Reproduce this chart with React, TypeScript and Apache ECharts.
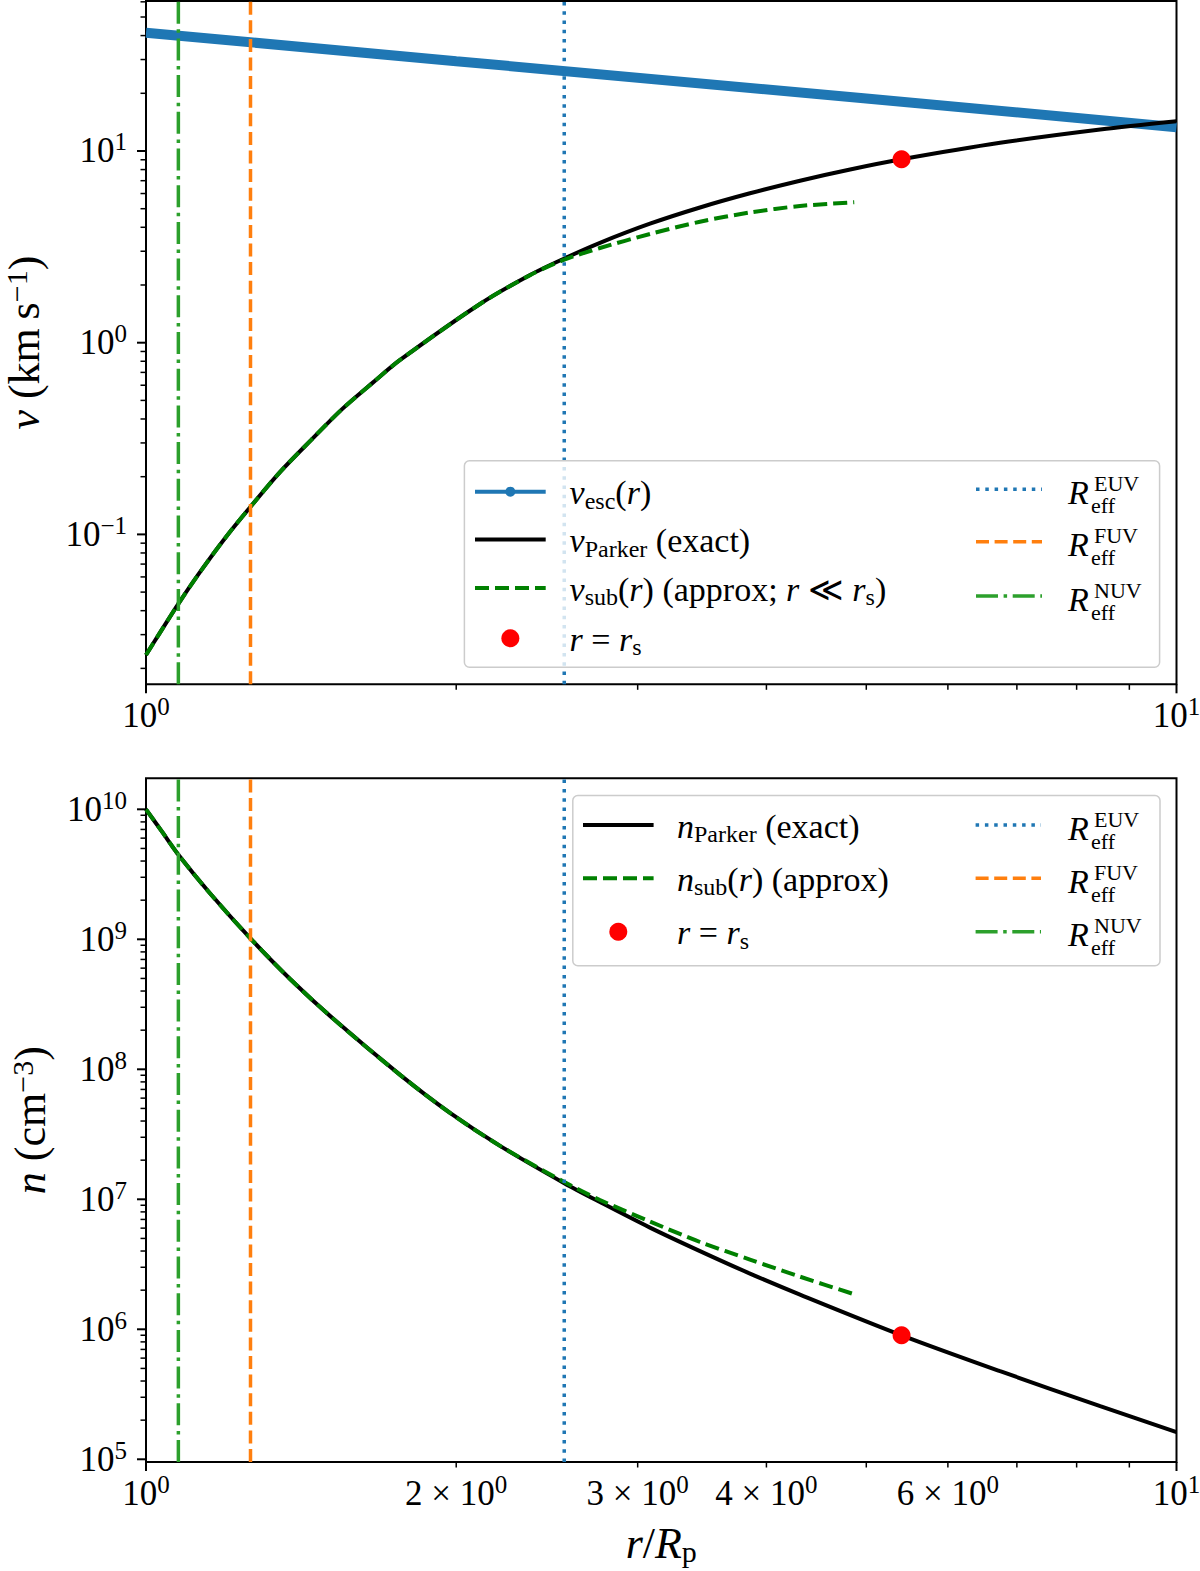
import React, { useEffect, useRef } from 'react';
import * as echarts from 'echarts';

const SERIF = '"Liberation Serif", "DejaVu Serif", serif';

// ---- axis ranges ----
const R_MIN = 1;
const R_MAX = 10;
const V_MIN = 0.01652;
const V_MAX = 60.6;
const N_MIN = 9.53e4;
const N_MAX = 1.732e10;

// ---- effective radii (vertical lines) ----
const R_EFF_EUV = 2.546;
const R_EFF_FUV = 1.263;
const R_EFF_NUV = 1.075;

// ---- sonic point ----
const R_SONIC = 5.41;
const V_SONIC = 9.05;
const N_SONIC = 8.99e5;

// ---- escape velocity (km/s) ----
const rEsc = [1, 2, 5, 10];
const vEsc = [41.4, 29.4, 18.8, 13.3];

// ---- Parker velocity, exact (km/s) ----
const rVParker = [1.0, 1.0318, 1.0765, 1.1281, 1.1931, 1.262, 1.349, 1.4459, 1.5498, 1.661, 1.7643, 2.1092, 2.3587, 2.5462, 2.7577, 3.0835, 3.4481, 3.8556, 4.3117, 4.8229, 5.4118, 6.7427, 8.4322, 10.0];
const vParker = [0.02349, 0.03074, 0.04393, 0.0635, 0.09554, 0.1386, 0.2113, 0.3103, 0.4503, 0.6207, 0.8125, 1.592, 2.255, 2.749, 3.32, 4.177, 5.075, 6.017, 7.0, 8.008, 9.05, 11.03, 12.95, 14.3];

// ---- subsonic approximation velocity (km/s) ----
const rVSub = [1.0, 1.0318, 1.0765, 1.1281, 1.1931, 1.262, 1.349, 1.4459, 1.5498, 1.661, 1.7643, 2.1092, 2.3587, 2.5462, 2.7577, 3.0835, 3.4481, 3.8556, 4.3117, 4.867];
const vSub = [0.02349, 0.03074, 0.04393, 0.0635, 0.09554, 0.1386, 0.2113, 0.3103, 0.4503, 0.6207, 0.8125, 1.592, 2.25, 2.71, 3.119, 3.69, 4.278, 4.778, 5.166, 5.4];

// ---- Parker density, exact (cm^-3) ----
const rNParker = [1.0, 1.0364, 1.0765, 1.1536, 1.262, 1.3797, 1.5187, 1.7643, 1.9724, 2.2057, 2.5462, 2.7577, 3.0835, 3.4481, 3.8556, 4.3117, 5.4118, 6.7427, 8.4322, 10.0];
const nParker = [1e10, 6.727e9, 4.412e9, 2.259e9, 1.021e9, 4.953e8, 2.455e8, 9.055e7, 4.62e7, 2.576e7, 1.33e7, 9.517e6, 6.058e6, 3.995e6, 2.683e6, 1.849e6, 8.99e5, 4.762e5, 2.562e5, 1.616e5];

// ---- subsonic approximation density (cm^-3) ----
const rNSub = [1.0, 1.0364, 1.0765, 1.1536, 1.262, 1.3797, 1.5187, 1.7643, 1.9724, 2.2057, 2.5462, 2.7577, 3.0835, 3.4481, 3.8556, 4.3117, 4.867];
const nSub = [1e10, 6.727e9, 4.412e9, 2.259e9, 1.021e9, 4.953e8, 2.455e8, 9.055e7, 4.62e7, 2.576e7, 1.358e7, 9.88e6, 6.749e6, 4.693e6, 3.436e6, 2.539e6, 1.859e6];

// ---- tick labels ----
const xMinorLabelMantissas = [2, 3, 4, 6];
const minorMantissas = [2, 3, 4, 5, 6, 7, 8, 9];

// ---- colours / styles ----
const C_BLUE = '#1f77b4';
const C_ORANGE = '#ff7f0e';
const C_GREEN2 = '#2ca02c';
const C_GREEN = '#008000';
const C_RED = '#ff0000';
const DASH_SUB = [14, 6];
const DASH_EUV = [3.5, 5.8];
const DASH_FUV = [13, 5.6];
const DASH_NUV = [22, 5.6, 3.5, 5.6];

const zip = (xs: number[], ys: number[]) => xs.map((x, i) => [x, ys[i]]);

function logTicks(min: number, max: number) {
  const out: number[][] = [];
  const e0 = Math.floor(Math.log10(min));
  const e1 = Math.ceil(Math.log10(max));
  for (let e = e0; e <= e1; e++) {
    const base = Math.pow(10, e);
    if (base >= min * (1 - 1e-9) && base <= max * (1 + 1e-9)) out.push([base, 1]);
    for (const m of minorMantissas) {
      const v = m * base;
      if (v >= min && v <= max) out.push([v, 0]);
    }
  }
  return out;
}

const fmtExp = (e: number) => (e < 0 ? '\u2212' + Math.abs(e) : String(e));
const powLabel = (v: number) => {
  const l = Math.log10(v);
  const e = Math.round(l);
  if (Math.abs(l - e) > 1e-6) return '';
  return `{b|10}{s|${fmtExp(e)}}`;
};

function buildOption() {
  const tickRich = {
    b: { fontFamily: SERIF, fontSize: 35, color: '#000' },
    s: { fontFamily: SERIF, fontSize: 25, color: '#000', padding: [0, 0, 18, 0] },
  };
  const tickRichZr = {
    b: { fontFamily: SERIF, fontSize: 35, fill: '#000', color: '#000' },
    s: { fontFamily: SERIF, fontSize: 25, fill: '#000', color: '#000', padding: [0, 0, 18, 0] },
  };
  const nameStyle = () => ({
    fontFamily: SERIF,
    fontSize: 44,
    color: '#000',
    rich: {
      i: { fontFamily: SERIF, fontStyle: 'italic', fontSize: 44, color: '#000' },
      sup: { fontFamily: SERIF, fontSize: 30, color: '#000', padding: [0, 0, 16, 0] },
      sub: { fontFamily: SERIF, fontSize: 30, color: '#000', padding: [16, 0, 0, 0] },
    },
  });

  const baseAxis: any = {
    type: 'log',
    logBase: 10,
    axisLine: { show: false },
    axisTick: { show: false },
    splitLine: { show: false },
    minorTick: { show: false },
    minorSplitLine: { show: false },
    nameMoveOverlap: false,
  };

  const tickSeries = (idx: number, axis: 'x' | 'y', ticks: number[][], anchor: number) => ({
    type: 'custom',
    xAxisIndex: idx,
    yAxisIndex: idx,
    silent: true,
    clip: false,
    z: 10,
    data: ticks.map(([v, maj]) => (axis === 'x' ? [v, anchor, maj] : [anchor, v, maj])),
    renderItem: (_p: any, api: any) => {
      const p = api.coord([api.value(0), api.value(1)]);
      const major = api.value(2) === 1;
      const len = major ? 9 : 5.5;
      const shape =
        axis === 'x'
          ? { x1: p[0], y1: p[1], x2: p[0], y2: p[1] + len }
          : { x1: p[0] - len, y1: p[1], x2: p[0], y2: p[1] };
      return { type: 'line', shape, style: { stroke: '#000', lineWidth: major ? 2 : 1.5 } };
    },
  });

  const vline = (idx: number, r: number, lo: number, hi: number, color: string, dash: number[]) => ({
    type: 'line',
    xAxisIndex: idx,
    yAxisIndex: idx,
    data: [
      [r, lo],
      [r, hi],
    ],
    symbol: 'none',
    showSymbol: false,
    silent: true,
    z: 5,
    lineStyle: { color, width: 3.5, type: dash },
  });

  const curve = (idx: number, data: number[][], color: string, width: number, z: number, dash?: number[], smooth = 0.3) => ({
    type: 'line',
    xAxisIndex: idx,
    yAxisIndex: idx,
    data,
    symbol: 'none',
    showSymbol: false,
    silent: true,
    smooth,
    z,
    lineStyle: { color, width, type: dash || 'solid' },
  });

  // ---- legend (drawn with graphic elements) ----
  const legRich = {
    i: { fontFamily: SERIF, fontStyle: 'italic', fontSize: 34, fill: '#000', color: '#000' },
    n: { fontFamily: SERIF, fontSize: 34, fill: '#000', color: '#000' },
    sub: { fontFamily: SERIF, fontSize: 24, fill: '#000', color: '#000', padding: [16, 0, 0, 0] },
  };
  const hl = (x1: number, x2: number, y: number, stroke: string, lw: number, dash?: number[]) => ({
    type: 'line',
    z: 101,
    shape: { x1, y1: y, x2, y2: y },
    style: dash ? { stroke, lineWidth: lw, lineDash: dash } : { stroke, lineWidth: lw },
  });
  const txt = (x: number, y: number, text: string, fs = 34, italic = false, rich?: any) => ({
    type: 'text',
    z: 102,
    x,
    y,
    style: {
      text,
      rich,
      fontFamily: SERIF,
      fontSize: fs,
      fontStyle: italic ? 'italic' : 'normal',
      fill: '#000',
      align: 'left',
      verticalAlign: 'middle',
    },
  });
  const dot = (cx: number, cy: number, r: number, fill: string) => ({
    type: 'circle',
    z: 102,
    shape: { cx, cy, r },
    style: { fill },
  });
  const reff = (x: number, y: number, band: string) => [
    txt(x, y + 3, 'R', 34, true),
    txt(x + 26, y - 6, band, 22),
    txt(x + 23, y + 16, 'eff', 22),
  ];
  const box = (x: number, y: number, w: number, h: number) => ({
    type: 'rect',
    z: 100,
    shape: { x, y, width: w, height: h, r: 5 },
    style: { fill: 'rgba(255,255,255,0.8)', stroke: '#cccccc', lineWidth: 1.5 },
  });
  const NB = '\u00a0';

  // top legend
  const tL = { hx: [475, 545.7], tx: 569.6, rows: [491.7, 539.5, 588, 638.3] };
  const tR = { hx: [976, 1042], tx: 1068, rows: [489.3, 541.7, 596] };
  const topLegend = [
    box(464.4, 460.7, 695.2, 206.6),
    hl(tL.hx[0], tL.hx[1], tL.rows[0], C_BLUE, 4),
    dot((tL.hx[0] + tL.hx[1]) / 2, tL.rows[0], 5, C_BLUE),
    txt(tL.tx, tL.rows[0] + 1, '{i|v}{sub|esc}{n|(}{i|r}{n|)}', 34, false, legRich),
    hl(tL.hx[0], tL.hx[1], tL.rows[1], '#000', 4),
    txt(tL.tx, tL.rows[1] + 1, `{i|v}{sub|Parker}{n|${NB}(exact)}`, 34, false, legRich),
    hl(tL.hx[0], tL.hx[1], tL.rows[2], C_GREEN, 4, DASH_SUB),
    txt(
      tL.tx,
      tL.rows[2] + 1,
      `{i|v}{sub|sub}{n|(}{i|r}{n|)${NB}(approx;${NB}}{i|r}{n|${NB}\u226a${NB}}{i|r}{sub|s}{n|)}`,
      34,
      false,
      legRich
    ),
    dot((tL.hx[0] + tL.hx[1]) / 2, tL.rows[3], 9, C_RED),
    txt(tL.tx, tL.rows[3] + 1, `{i|r}{n|${NB}=${NB}}{i|r}{sub|s}`, 34, false, legRich),
    hl(tR.hx[0], tR.hx[1], tR.rows[0], C_BLUE, 3.5, DASH_EUV),
    ...reff(tR.tx, tR.rows[0], 'EUV'),
    hl(tR.hx[0], tR.hx[1], tR.rows[1], C_ORANGE, 3.5, DASH_FUV),
    ...reff(tR.tx, tR.rows[1], 'FUV'),
    hl(tR.hx[0], tR.hx[1], tR.rows[2], C_GREEN2, 3.5, DASH_NUV),
    ...reff(tR.tx, tR.rows[2], 'NUV'),
  ];

  // bottom legend
  const bL = { hx: [583, 653.6], tx: 677, rows: [825, 878.3, 931.7] };
  const bR = { hx: [975.6, 1041], tx: 1068, rows: [825, 878.3, 931.7] };
  const bottomLegend = [
    box(572.8, 795.5, 587.2, 170.2),
    hl(bL.hx[0], bL.hx[1], bL.rows[0], '#000', 4),
    txt(bL.tx, bL.rows[0] + 1, `{i|n}{sub|Parker}{n|${NB}(exact)}`, 34, false, legRich),
    hl(bL.hx[0], bL.hx[1], bL.rows[1], C_GREEN, 4, DASH_SUB),
    txt(bL.tx, bL.rows[1] + 1, `{i|n}{sub|sub}{n|(}{i|r}{n|)${NB}(approx)}`, 34, false, legRich),
    dot((bL.hx[0] + bL.hx[1]) / 2, bL.rows[2], 9, C_RED),
    txt(bL.tx, bL.rows[2] + 1, `{i|r}{n|${NB}=${NB}}{i|r}{sub|s}`, 34, false, legRich),
    hl(bR.hx[0], bR.hx[1], bR.rows[0], C_BLUE, 3.5, DASH_EUV),
    ...reff(bR.tx, bR.rows[0], 'EUV'),
    hl(bR.hx[0], bR.hx[1], bR.rows[1], C_ORANGE, 3.5, DASH_FUV),
    ...reff(bR.tx, bR.rows[1], 'FUV'),
    hl(bR.hx[0], bR.hx[1], bR.rows[2], C_GREEN2, 3.5, DASH_NUV),
    ...reff(bR.tx, bR.rows[2], 'NUV'),
  ];

  const gridBase = {
    show: true,
    borderColor: '#000',
    borderWidth: 2,
    backgroundColor: 'transparent',
    containLabel: false,
    outerBoundsMode: 'none',
  };

  const sonic = (idx: number, y: number) => ({
    type: 'scatter',
    xAxisIndex: idx,
    yAxisIndex: idx,
    data: [[R_SONIC, y]],
    symbolSize: 18,
    itemStyle: { color: C_RED, opacity: 1 },
    silent: true,
    z: 6,
  });

  return {
    animation: false,
    backgroundColor: '#ffffff',
    textStyle: { fontFamily: SERIF },
    grid: [
      { ...gridBase, left: 146, top: 1, width: 1030.5, height: 683.3 },
      { ...gridBase, left: 146, top: 778.3, width: 1030.5, height: 683.7 },
    ],
    xAxis: [
      {
        ...baseAxis,
        gridIndex: 0,
        min: R_MIN,
        max: R_MAX,
        axisLabel: { margin: 10, formatter: powLabel, rich: tickRich, color: '#000' },
      },
      {
        ...baseAxis,
        gridIndex: 1,
        min: R_MIN,
        max: R_MAX,
        axisLabel: { margin: 10, formatter: powLabel, rich: tickRich, color: '#000' },
        name: '{i|r}/{i|R}{sub|p}',
        nameLocation: 'middle',
        nameGap: 58,
        nameTextStyle: nameStyle(),
      },
    ],
    yAxis: [
      {
        ...baseAxis,
        gridIndex: 0,
        min: V_MIN,
        max: V_MAX,
        axisLabel: { margin: 19, formatter: powLabel, rich: tickRich, color: '#000' },
        name: `{i|v}${NB}(km\u2009s{sup|\u22121})`,
        nameLocation: 'middle',
        nameGap: 99,
        nameTextStyle: nameStyle(),
      },
      {
        ...baseAxis,
        gridIndex: 1,
        min: N_MIN,
        max: N_MAX,
        axisLabel: { margin: 19, formatter: powLabel, rich: tickRich, color: '#000' },
        name: `{i|n}${NB}(cm{sup|\u22123})`,
        nameLocation: 'middle',
        nameGap: 93,
        nameTextStyle: nameStyle(),
      },
    ],
    series: [
      // ---- top panel ----
      curve(0, zip(rEsc, vEsc), C_BLUE, 10, 2, undefined, 0),
      curve(0, zip(rVParker, vParker), '#000', 4, 3),
      curve(0, zip(rVSub, vSub), C_GREEN, 4, 4, DASH_SUB),
      vline(0, R_EFF_NUV, V_MIN, V_MAX, C_GREEN2, DASH_NUV),
      vline(0, R_EFF_FUV, V_MIN, V_MAX, C_ORANGE, DASH_FUV),
      vline(0, R_EFF_EUV, V_MIN, V_MAX, C_BLUE, DASH_EUV),
      sonic(0, V_SONIC),
      tickSeries(0, 'x', logTicks(R_MIN, R_MAX), V_MIN),
      tickSeries(0, 'y', logTicks(V_MIN, V_MAX), R_MIN),
      // ---- bottom panel ----
      curve(1, zip(rNParker, nParker), '#000', 4, 3),
      curve(1, zip(rNSub, nSub), C_GREEN, 4, 4, DASH_SUB),
      vline(1, R_EFF_NUV, N_MIN, N_MAX, C_GREEN2, DASH_NUV),
      vline(1, R_EFF_FUV, N_MIN, N_MAX, C_ORANGE, DASH_FUV),
      vline(1, R_EFF_EUV, N_MIN, N_MAX, C_BLUE, DASH_EUV),
      sonic(1, N_SONIC),
      tickSeries(1, 'x', logTicks(R_MIN, R_MAX), N_MIN),
      tickSeries(1, 'y', logTicks(N_MIN, N_MAX), R_MIN),
      {
        type: 'custom',
        xAxisIndex: 1,
        yAxisIndex: 1,
        silent: true,
        clip: false,
        z: 10,
        data: xMinorLabelMantissas.map((m) => [m, N_MIN]),
        renderItem: (_p: any, api: any) => {
          const p = api.coord([api.value(0), api.value(1)]);
          return {
            type: 'text',
            x: p[0],
            y: p[1] + 31.5,
            style: {
              text: `{b|${api.value(0)} \u00d7 10}{s|0}`,
              rich: tickRichZr,
              fontFamily: SERIF,
              fontSize: 35,
              fill: '#000',
              align: 'center',
              verticalAlign: 'middle',
            },
          };
        },
      },
    ],
    graphic: { elements: [...topLegend, ...bottomLegend] },
  };
}

export default function App() {
  const ref = useRef<HTMLDivElement>(null);
  useEffect(() => {
    if (!ref.current) return;
    const chart = echarts.init(ref.current, undefined, { renderer: 'svg' });
    chart.setOption(buildOption() as any);
    return () => {
      chart.dispose();
    };
  }, []);
  return (
    <div
      ref={ref}
      style={{ position: 'absolute', left: 0, top: 0, width: 1200, height: 1571, background: '#fff' }}
    />
  );
}
